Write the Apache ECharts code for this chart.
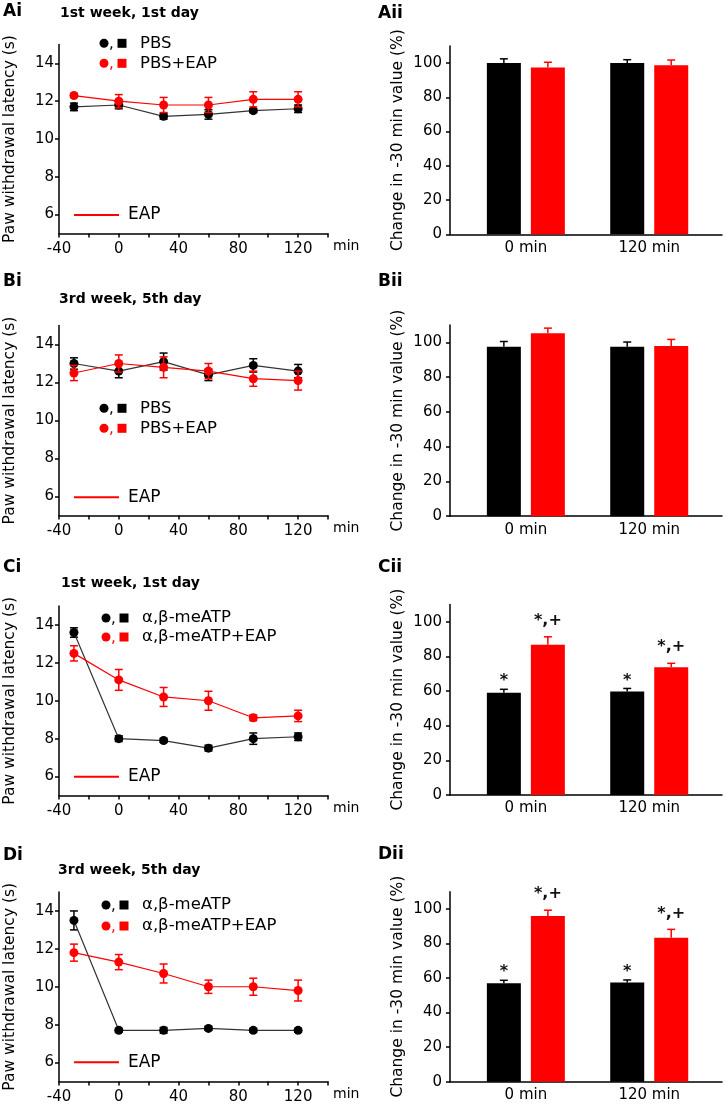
<!DOCTYPE html>
<html>
<head>
<meta charset="utf-8">
<script src="https://cdn.jsdelivr.net/npm/echarts@6/dist/echarts.min.js"></script>
<style>
html,body{margin:0;padding:0;background:#fff;}
#chart{width:726px;height:1105px;}
</style>
</head>
<body>
<div id="chart"></div>
<script>
// ---------- DATA ----------
const timePoints = [-30, 0, 30, 60, 90, 120];
const xTickLabels = [-40, 0, 40, 80, 120];
const yTickLabels = [6, 8, 10, 12, 14];
const barTickLabels = [0, 20, 40, 60, 80, 100];

// Ai: 1st week, 1st day (PBS)
const aiPBS = [11.7, 11.8, 11.2, 11.3, 11.5, 11.6];
const aiPBSErr = [0.2, 0.2, 0.15, 0.25, 0.1, 0.2];
const aiEAP = [12.3, 12.0, 11.8, 11.8, 12.1, 12.1];
const aiEAPErr = [0.1, 0.35, 0.4, 0.4, 0.4, 0.4];
// Bi: 3rd week, 5th day (PBS)
const biPBS = [13.0, 12.6, 13.1, 12.4, 12.9, 12.6];
const biPBSErr = [0.3, 0.35, 0.45, 0.3, 0.35, 0.35];
const biEAP = [12.5, 13.0, 12.8, 12.6, 12.2, 12.1];
const biEAPErr = [0.4, 0.45, 0.55, 0.4, 0.4, 0.5];
// Ci: 1st week, 1st day (a,b-meATP)
const ciATP = [13.6, 8.0, 7.9, 7.5, 8.0, 8.1];
const ciATPErr = [0.25, 0.15, 0.1, 0.15, 0.3, 0.2];
const ciEAP = [12.5, 11.1, 10.2, 10.0, 9.1, 9.2];
const ciEAPErr = [0.4, 0.55, 0.5, 0.5, 0.15, 0.3];
// Di: 3rd week, 5th day (a,b-meATP)
const diATP = [13.5, 7.7, 7.7, 7.8, 7.7, 7.7];
const diATPErr = [0.5, 0.1, 0.15, 0.1, 0.1, 0.1];
const diEAP = [11.8, 11.3, 10.7, 10.0, 10.0, 9.8];
const diEAPErr = [0.45, 0.4, 0.5, 0.35, 0.45, 0.55];

// Bar panels: change in -30 min value (%)
const barCategories = ['0 min', '120 min'];
const aiiBlack = [100, 100];   const aiiBlackErr = [2.5, 2.0];
const aiiRed = [97.5, 98.8];   const aiiRedErr = [3.0, 3.0];
const biiBlack = [97.5, 97.5]; const biiBlackErr = [3.0, 2.7];
const biiRed = [105.2, 97.9];  const biiRedErr = [3.0, 3.8];
const ciiBlack = [59.0, 59.8]; const ciiBlackErr = [2.0, 1.7];
const ciiRed = [86.7, 73.7];   const ciiRedErr = [4.6, 2.3];
const diiBlack = [57.0, 57.5]; const diiBlackErr = [1.7, 1.4];
const diiRed = [96.0, 83.4];   const diiRedErr = [3.3, 4.8];
const ciiBlackSig = ['*', '*'];  const ciiRedSig = ['*,+', '*,+'];
const diiBlackSig = ['*', '*'];  const diiRedSig = ['*,+', '*,+'];

const panelLabels = ['Ai', 'Aii', 'Bi', 'Bii', 'Ci', 'Cii', 'Di', 'Dii'];
const panelTitles = ['1st week, 1st day', '3rd week, 5th day', '1st week, 1st day', '3rd week, 5th day'];
const legendNamesPBS = ['PBS', 'PBS+EAP'];
const legendNamesATP = ['\u03b1,\u03b2-meATP', '\u03b1,\u03b2-meATP+EAP'];
const legendLineName = 'EAP';
const lineYName = 'Paw withdrawal latency (s)';
const barYName = 'Change in -30 min value (%)';
const xUnitName = 'min';

// ---------- STYLE / LAYOUT ----------
const FONT = '"DejaVu Sans", "Liberation Sans", sans-serif';
const RED = '#ff0000';
const BLACK = '#000000';
const BAR_W = 34, BAR_GAP = 10;

const lineGrids = [
  {left: 59, top: 44.5, width: 269, height: 189},
  {left: 59, top: 325.5, width: 269, height: 190},
  {left: 59, top: 606, width: 269, height: 189.5},
  {left: 59, top: 892, width: 269, height: 189.5}
];
const barGrids = [
  {left: 450, top: 46, width: 272, height: 188.3},
  {left: 450, top: 325, width: 272, height: 191.2},
  {left: 450, top: 604.4, width: 272, height: 190.6},
  {left: 450, top: 891.7, width: 272, height: 190}
];

const lineSets = [
  [aiPBS, aiPBSErr, aiEAP, aiEAPErr],
  [biPBS, biPBSErr, biEAP, biEAPErr],
  [ciATP, ciATPErr, ciEAP, ciEAPErr],
  [diATP, diATPErr, diEAP, diEAPErr]
];
const barSets = [
  [aiiBlack, aiiBlackErr, aiiRed, aiiRedErr, null, null],
  [biiBlack, biiBlackErr, biiRed, biiRedErr, null, null],
  [ciiBlack, ciiBlackErr, ciiRed, ciiRedErr, ciiBlackSig, ciiRedSig],
  [diiBlack, diiBlackErr, diiRed, diiRedErr, diiBlackSig, diiRedSig]
];

const grids = [], xAxes = [], yAxes = [], series = [], graphics = [];

function errRender(color, capHalf) {
  return function (params, api) {
    const x = api.value(0), y = api.value(1), e = api.value(2);
    const hi = api.coord([x, y + e]);
    const lo = api.coord([x, y - e]);
    const st = {stroke: color, lineWidth: 1.5};
    return {type: 'group', children: [
      {type: 'line', shape: {x1: hi[0], y1: hi[1], x2: lo[0], y2: lo[1]}, style: st},
      {type: 'line', shape: {x1: hi[0] - capHalf, y1: hi[1], x2: hi[0] + capHalf, y2: hi[1]}, style: st},
      {type: 'line', shape: {x1: lo[0] - capHalf, y1: lo[1], x2: lo[0] + capHalf, y2: lo[1]}, style: st}
    ]};
  };
}

function barErrRender(color, dx, sig, sigLift) {
  return function (params, api) {
    const x = api.value(0), y = api.value(1), e = api.value(2);
    const base = api.coord([x, y]);
    const hi = api.coord([x, y + e]);
    const cx = base[0] + dx;
    const st = {stroke: color, lineWidth: 1.5};
    const ch = [
      {type: 'line', shape: {x1: cx, y1: base[1], x2: cx, y2: hi[1]}, style: st},
      {type: 'line', shape: {x1: cx - 4, y1: hi[1], x2: cx + 4, y2: hi[1]}, style: st}
    ];
    if (sig) {
      ch.push({type: 'text', style: {text: sig[params.dataIndex], x: cx, y: hi[1] - sigLift,
        align: 'center', verticalAlign: 'bottom', font: 'bold 16px ' + FONT, fill: '#111'}});
    }
    return {type: 'group', children: ch};
  };
}

const axisLineStyle = {show: true, onZero: false, lineStyle: {color: BLACK, width: 1.5}};
const labelStyle = {color: BLACK, fontFamily: FONT, fontSize: 15};

lineGrids.forEach((g, k) => {
  const gi = grids.length;
  grids.push(g);
  xAxes.push({
    gridIndex: gi, type: 'value', min: -40, max: 140, interval: 20,
    axisLine: axisLineStyle,
    axisTick: {show: true, inside: false, length: 4, lineStyle: {color: BLACK, width: 1.5}},
    axisLabel: Object.assign({}, labelStyle, {margin: 8,
      formatter: v => (xTickLabels.indexOf(v) >= 0 ? String(v) : '')}),
    splitLine: {show: false},
    name: xUnitName, nameLocation: 'end', nameGap: 5,
    nameTextStyle: {color: BLACK, fontFamily: FONT, fontSize: 14, verticalAlign: 'top', padding: [6, 0, 0, 0]}
  });
  yAxes.push({
    gridIndex: gi, type: 'value', min: 5, max: 15,
    axisLine: axisLineStyle,
    axisTick: {show: true, inside: false, length: 4, customValues: yTickLabels, lineStyle: {color: BLACK, width: 1.5}},
    axisLabel: Object.assign({}, labelStyle, {margin: 5, customValues: yTickLabels}),
    splitLine: {show: false},
    name: lineYName, nameLocation: 'middle', nameGap: 41,
    nameTextStyle: {color: BLACK, fontFamily: FONT, fontSize: 15.5}
  });
  const [bv, be, rv, re] = lineSets[k];
  const mk = (arr) => timePoints.map((t, i) => [t, arr[i]]);
  const mkE = (arr, err) => timePoints.map((t, i) => [t, arr[i], err[i]]);
  series.push({type: 'custom', xAxisIndex: gi, yAxisIndex: gi, z: 1, renderItem: errRender(BLACK, 4),
    data: mkE(bv, be), clip: false});
  series.push({type: 'line', xAxisIndex: gi, yAxisIndex: gi, z: 2, data: mk(bv), symbol: 'circle', symbolSize: 9,
    lineStyle: {color: '#333', width: 1.2}, itemStyle: {color: BLACK}});
  series.push({type: 'custom', xAxisIndex: gi, yAxisIndex: gi, z: 3, renderItem: errRender(RED, 4),
    data: mkE(rv, re), clip: false});
  series.push({type: 'line', xAxisIndex: gi, yAxisIndex: gi, z: 4, data: mk(rv), symbol: 'circle', symbolSize: 9,
    lineStyle: {color: RED, width: 1.2}, itemStyle: {color: RED}});
});

barGrids.forEach((g, k) => {
  const gi = grids.length;
  grids.push(g);
  xAxes.push({
    gridIndex: gi, type: 'value', min: -0.615, max: 1.59,
    axisLine: axisLineStyle,
    axisTick: {show: false},
    axisLabel: Object.assign({}, labelStyle, {margin: 6, customValues: [0, 1],
      formatter: v => barCategories[Math.round(v)]}),
    splitLine: {show: false}
  });
  yAxes.push({
    gridIndex: gi, type: 'value', min: 0, max: 110,
    axisLine: axisLineStyle,
    axisTick: {show: true, inside: false, length: 4, customValues: barTickLabels, lineStyle: {color: BLACK, width: 1.5}},
    axisLabel: Object.assign({}, labelStyle, {margin: 8, customValues: barTickLabels}),
    splitLine: {show: false},
    name: barYName, nameLocation: 'middle', nameGap: 44,
    nameTextStyle: {color: BLACK, fontFamily: FONT, fontSize: 15.5}
  });
  const [bv, be, rv, re, bs, rs] = barSets[k];
  const mk = (arr) => arr.map((v, i) => [i, v]);
  const mkE = (arr, err) => arr.map((v, i) => [i, v, err[i]]);
  series.push({type: 'bar', xAxisIndex: gi, yAxisIndex: gi, data: mk(bv), barWidth: BAR_W,
    barGap: (BAR_GAP / BAR_W * 100) + '%', itemStyle: {color: BLACK}});
  series.push({type: 'bar', xAxisIndex: gi, yAxisIndex: gi, data: mk(rv), barWidth: BAR_W,
    barGap: (BAR_GAP / BAR_W * 100) + '%', itemStyle: {color: RED}});
  const off = (BAR_W + BAR_GAP) / 2;
  series.push({type: 'custom', xAxisIndex: gi, yAxisIndex: gi, z: 5, clip: false,
    renderItem: barErrRender(BLACK, -off, bs, 0), data: mkE(bv, be)});
  series.push({type: 'custom', xAxisIndex: gi, yAxisIndex: gi, z: 5, clip: false,
    renderItem: barErrRender(RED, off, rs, 8), data: mkE(rv, re)});
});

// ---------- PANEL TEXT & LEGENDS ----------
function txt(x, y, s, font, color, align) {
  graphics.push({type: 'text', x: x, y: y,
    style: {text: s, font: font, fill: color || BLACK, align: align || 'left', verticalAlign: 'middle'}});
}
const labelPos = [[3, 12], [378, 14], [3, 282], [378, 282], [3, 568], [378, 568], [3, 856], [378, 855]];
panelLabels.forEach((l, i) => txt(labelPos[i][0], labelPos[i][1], l, 'bold 17px ' + FONT));
const titlePos = [[60, 13], [59, 299], [61, 583], [58, 870]];
panelTitles.forEach((t, i) => txt(titlePos[i][0], titlePos[i][1], t, 'bold 14px ' + FONT));

const legendRows = [
  {y: [43.3, 63.3], cx: 104, sq: 122, tx: 140, names: legendNamesPBS, eap: 215},
  {y: [408.3, 428.3], cx: 104, sq: 122, tx: 140, names: legendNamesPBS, eap: 497.3},
  {y: [618, 637], cx: 106, sq: 124, tx: 142, names: legendNamesATP, eap: 776.7},
  {y: [905, 926], cx: 106, sq: 124, tx: 142, names: legendNamesATP, eap: 1062.3}
];
legendRows.forEach(L => {
  [BLACK, RED].forEach((c, r) => {
    const y = L.y[r];
    graphics.push({type: 'circle', shape: {cx: L.cx, cy: y, r: 4.5}, style: {fill: c}});
    txt(L.cx + 5, y + 1, ',', '15px ' + FONT, c);
    graphics.push({type: 'rect', shape: {x: L.sq - 4.5, y: y - 4.5, width: 9, height: 9}, style: {fill: c}});
    txt(L.tx, y, L.names[r], '16.5px ' + FONT, BLACK);
  });
  graphics.push({type: 'line', shape: {x1: 74, y1: L.eap, x2: 119, y2: L.eap}, style: {stroke: RED, lineWidth: 2}});
  txt(128, L.eap, legendLineName, '17px ' + FONT, BLACK);
});

const chart = echarts.init(document.getElementById('chart'), null, {renderer: 'canvas'});
chart.setOption({
  animation: false,
  backgroundColor: '#ffffff',
  grid: grids,
  xAxis: xAxes,
  yAxis: yAxes,
  series: series,
  graphic: {elements: graphics}
});
</script>
</body>
</html>
